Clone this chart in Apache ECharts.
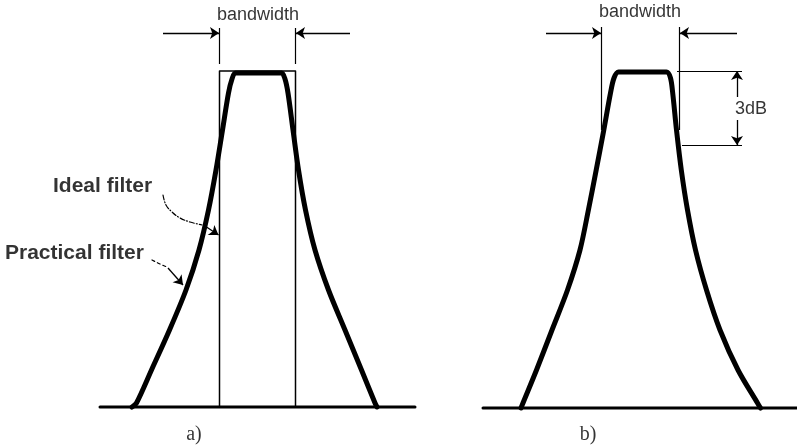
<!DOCTYPE html>
<html>
<head>
<meta charset="utf-8">
<script src="https://cdn.jsdelivr.net/npm/echarts@6/dist/echarts.min.js"></script>
<style>html,body{margin:0;padding:0;background:#fff;}#c{width:797px;height:448px;}</style>
</head>
<body>
<div id="c"></div>
<script>
// Frequency (x) and level (y, up) in drawing units
const practicalA_x = [132, 136.5, 151.5, 169.5, 186, 199, 208.5, 216, 222.5, 228.5, 232, 235.5, 281.5, 285, 288, 293, 298.5, 305.5, 315, 328.5, 345, 361.5, 375, 377];
const practicalA_y = [41, 45, 78, 118, 158, 198, 238, 278, 318, 355, 369, 375, 375, 369, 355, 318, 278, 238, 198, 158, 118, 78, 45, 41];
const idealA_x = [219.5, 219.5, 295.5, 295.5];
const idealA_y = [41, 377, 377, 41];
const practicalB_x = [521, 523, 536.5, 552, 567.5, 580, 588.4, 596.2, 603.8, 610.5, 614, 618.5, 666.5, 670.5, 672.7, 676.5, 681.3, 687.5, 695.5, 706.5, 720, 738, 757.5, 760.5];
const practicalB_y = [40, 45, 78, 118, 158, 198, 238, 278, 318, 355, 370, 376, 376, 370, 355, 318, 278, 238, 198, 158, 118, 78, 45, 40];
const baseA_x = [100, 415];
const baseA_y = [41, 41];
const baseB_x = [483, 797];
const baseB_y = [40, 40];
// bandwidth / 3dB reference lines (plain)
const refLines = [
  [[219.5, 420], [219.5, 384]],
  [[295.5, 420], [295.5, 384]],
  [[601, 421], [601, 318]],
  [[679.5, 421], [679.5, 318]],
  [[677, 377], [742, 377]],
  [[682, 303], [742, 303]]
];
// arrows (end has head)
const arrows = [
  [[163, 415], [219, 415]],
  [[350, 415], [296, 415]],
  [[546, 415], [601, 415]],
  [[737, 415], [680, 415]],
  [[737, 351], [737, 377]],
  [[737, 328], [737, 303]],
  [[205, 222], [218.5, 213]],
  [[168, 180], [183, 163]]
];
// dashed leaders
const leaderIdeal_x = [163, 166, 172, 180, 190, 202];
const leaderIdeal_y = [253, 243, 236, 230, 226, 223];
const leaderPract_x = [152, 160, 167];
const leaderPract_y = [188, 184, 181];
// text labels
const labelText = ['bandwidth', 'bandwidth', '3dB', 'Ideal filter', 'Practical filter', 'a)', 'b)'];
const labelX = [258, 640, 751, 53, 5, 194, 588];
const labelY = [433, 436, 339, 262, 195, 13, 13];

const zip = (xs, ys) => xs.map((x, i) => [x, ys[i]]);
const chart = echarts.init(document.getElementById('c'), null, {renderer: 'canvas'});
const black = '#000';
const curve = (name, xs, ys, w, smooth, type) => ({
  type: 'line', name, data: zip(xs, ys), showSymbol: false, symbol: 'none',
  smooth: smooth, lineStyle: {color: black, width: w, type: type || 'solid', cap: 'round', join: 'round'},
  silent: true, z: 3
});
const labelStyles = [
  {fontSize: 18, fontFamily: 'Liberation Sans', align: 'center'},
  {fontSize: 18, fontFamily: 'Liberation Sans', align: 'center'},
  {fontSize: 18, fontFamily: 'Liberation Sans', align: 'center', backgroundColor: '#fff', padding: [2, 0]},
  {fontSize: 21, fontFamily: 'Liberation Sans', fontWeight: 'bold', align: 'left'},
  {fontSize: 21, fontFamily: 'Liberation Sans', fontWeight: 'bold', align: 'left'},
  {fontSize: 20, fontFamily: 'Liberation Serif', align: 'center'},
  {fontSize: 20, fontFamily: 'Liberation Serif', align: 'center'}
];
chart.setOption({
  animation: false,
  backgroundColor: '#fff',
  grid: {left: 0, right: 0, top: 0, bottom: 0},
  xAxis: {type: 'value', min: 0, max: 797, show: false},
  yAxis: {type: 'value', min: 0, max: 448, show: false},
  series: [
    curve('baseA', baseA_x, baseA_y, 3, false),
    curve('baseB', baseB_x, baseB_y, 3, false),
    curve('Ideal filter', idealA_x, idealA_y, 1.5, false),
    curve('Practical filter a', practicalA_x, practicalA_y, 5, 0.3),
    curve('Practical filter b', practicalB_x, practicalB_y, 5, 0.3),
    curve('leaderIdeal', leaderIdeal_x, leaderIdeal_y, 1.2, 0.4, [5, 2, 1, 2]),
    curve('leaderPract', leaderPract_x, leaderPract_y, 1.2, 0.4, [3, 3]),
    {
      type: 'lines', coordinateSystem: 'cartesian2d', silent: true, z: 2,
      data: refLines.map(c => ({coords: c})),
      symbol: ['none', 'none'],
      lineStyle: {color: black, width: 1.2, opacity: 1}
    },
    {
      type: 'lines', coordinateSystem: 'cartesian2d', silent: true, z: 4,
      data: arrows.map(c => ({coords: c})),
      symbol: ['none', 'arrow'], symbolSize: 9,
      itemStyle: {color: black},
      lineStyle: {color: black, width: 1.3, opacity: 1}
    },
    {
      type: 'scatter', silent: true, z: 5, symbolSize: 1,
      itemStyle: {color: 'rgba(0,0,0,0)'},
      data: labelText.map((t, i) => ({
        name: t, value: [labelX[i], labelY[i]],
        label: Object.assign({show: true, position: 'inside', formatter: '{b}', color: black, verticalAlign: 'middle'}, labelStyles[i])
      }))
    }
  ]
});
</script>
</body>
</html>
